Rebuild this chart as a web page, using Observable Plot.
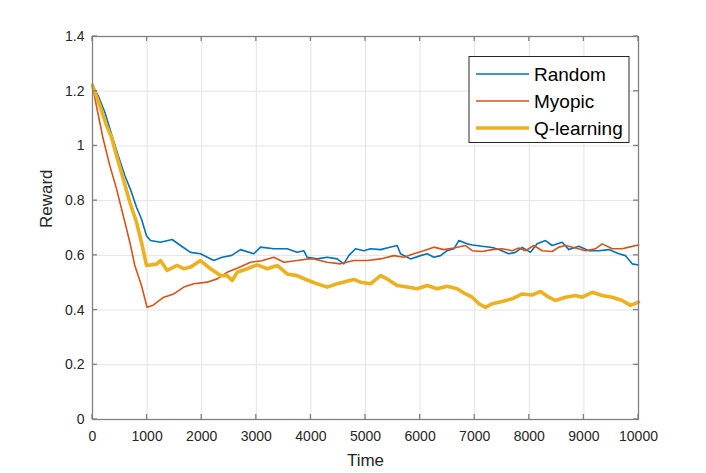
<!DOCTYPE html>
<html><head><meta charset="utf-8">
<script src="https://cdn.jsdelivr.net/npm/d3@7"></script>
<script src="https://cdn.jsdelivr.net/npm/@observablehq/plot@0.6"></script>
<style>
body{margin:0;background:#fff;}
#chart{width:706px;height:473px;}
</style></head><body><div id="chart"></div>
<script>
// ---- data ----
const randomT = [0,104,226,348,470,592,714,806,897,989,1062,1245,1459,1612,1795,1978,2222,2375,2550,2711,2955,3077,3321,3565,3748,3870,3932,4115,4298,4481,4603,4694,4817,4969,5092,5275,5427,5580,5641,5824,6007,6130,6252,6374,6496,6618,6709,6862,6954,7137,7320,7442,7625,7747,7870,8022,8144,8297,8419,8602,8724,8907,9090,9273,9456,9640,9762,9884,10000];
const randomV = [1.221,1.184,1.123,1.044,0.965,0.892,0.831,0.776,0.733,0.672,0.654,0.648,0.658,0.636,0.611,0.606,0.581,0.593,0.600,0.621,0.606,0.630,0.624,0.624,0.611,0.617,0.593,0.587,0.593,0.587,0.569,0.599,0.624,0.617,0.624,0.621,0.629,0.636,0.606,0.587,0.599,0.606,0.593,0.599,0.617,0.624,0.654,0.642,0.638,0.633,0.629,0.621,0.606,0.611,0.629,0.611,0.642,0.654,0.636,0.648,0.621,0.633,0.617,0.617,0.621,0.606,0.599,0.569,0.565];

const myopicT = [0,73,195,317,440,562,684,775,897,1000,1111,1306,1489,1672,1856,2100,2283,2466,2649,2894,3100,3321,3504,3748,3962,4054,4298,4542,4786,5031,5275,5519,5702,5885,6068,6252,6435,6618,6832,6954,7137,7320,7503,7686,7808,7930,8083,8236,8419,8541,8663,8846,9029,9212,9335,9518,9701,9823,10000];
const myopicV = [1.221,1.145,1.026,0.928,0.843,0.746,0.648,0.563,0.490,0.410,0.418,0.447,0.459,0.484,0.496,0.502,0.514,0.538,0.553,0.575,0.580,0.593,0.575,0.581,0.587,0.587,0.575,0.569,0.581,0.581,0.587,0.599,0.593,0.606,0.617,0.630,0.621,0.627,0.636,0.617,0.614,0.621,0.624,0.617,0.627,0.617,0.636,0.617,0.614,0.630,0.636,0.627,0.617,0.624,0.642,0.624,0.624,0.630,0.638];

const qT = [0,134,256,348,440,562,684,806,897,989,1172,1245,1368,1551,1672,1795,1978,2161,2344,2466,2558,2649,2833,3016,3199,3382,3565,3748,3932,4115,4298,4481,4786,4908,5092,5275,5397,5580,5763,5946,6130,6313,6496,6679,6832,6954,7076,7198,7320,7503,7686,7870,8053,8205,8357,8480,8663,8846,8969,9152,9335,9518,9701,9853,10000];
const qV = [1.221,1.148,1.075,1.032,0.965,0.880,0.794,0.721,0.648,0.563,0.568,0.581,0.545,0.563,0.551,0.557,0.581,0.551,0.526,0.526,0.508,0.538,0.551,0.565,0.551,0.563,0.532,0.526,0.510,0.496,0.484,0.496,0.512,0.502,0.496,0.526,0.514,0.490,0.484,0.478,0.490,0.478,0.487,0.478,0.459,0.447,0.423,0.410,0.423,0.431,0.441,0.459,0.455,0.468,0.447,0.435,0.447,0.453,0.447,0.465,0.453,0.447,0.435,0.417,0.429];

const seriesNames = ["Random","Myopic","Q-learning"];
const seriesColors = ["#0072BD","#D95319","#EDB120"];
const xTicks = [0,1000,2000,3000,4000,5000,6000,7000,8000,9000,10000];
const yTicks = [0,0.2,0.4,0.6,0.8,1,1.2,1.4];
const xLabel = "Time";
const yLabel = "Reward";

// ---- build ----
const toRows = (T, V, name) => T.map((t, i) => ({t, v: V[i], name}));
const rowsR = toRows(randomT, randomV, seriesNames[0]);
const rowsM = toRows(myopicT, myopicV, seriesNames[1]);
const rowsQ = toRows(qT, qV, seriesNames[2]);

const W = 706, H = 473, mL = 92, mR = 68, mT = 36, mB = 54;
const font = "'Liberation Sans', Arial, Helvetica, sans-serif";
const axisColor = "#808080";

const plot = Plot.plot({
  width: W, height: H,
  marginLeft: mL, marginRight: mR, marginTop: mT, marginBottom: mB,
  style: {fontFamily: font, fontSize: "14px", color: "#262626", background: "#fff", overflow: "visible"},
  x: {domain: [0, 10000]},
  y: {domain: [0, 1.4]},
  marks: [
    Plot.gridX(xTicks, {stroke: "#e3e3e3", strokeOpacity: 1, strokeWidth: 1}),
    Plot.gridY(yTicks, {stroke: "#e3e3e3", strokeOpacity: 1, strokeWidth: 1}),
    Plot.line(rowsR, {x: "t", y: "v", stroke: seriesColors[0], strokeWidth: 1.6}),
    Plot.line(rowsM, {x: "t", y: "v", stroke: seriesColors[1], strokeWidth: 1.6}),
    Plot.line(rowsQ, {x: "t", y: "v", stroke: seriesColors[2], strokeWidth: 3.6, strokeLinejoin: "round"}),
    Plot.frame({stroke: axisColor, strokeWidth: 1.3}),
    Plot.axisX(xTicks, {tickSize: 0, tickPadding: 12, tickFormat: d => String(d), label: null, fill: "#262626"}),
    Plot.axisY(yTicks, {tickSize: 0, tickPadding: 8, tickFormat: d => String(d), label: null, fill: "#262626"}),
    Plot.text([xLabel], {frameAnchor: "bottom", dy: 46, fontSize: 17, fill: "#262626", text: d => d}),
    Plot.text([yLabel], {frameAnchor: "left", dx: -46, rotate: -90, fontSize: 17, fill: "#262626", text: d => d})
  ]
});

// inward ticks on all four sides, positioned with the plot's own scales
const sx = plot.scale("x"), sy = plot.scale("y");
const svg = d3.select(plot);
const tg = svg.append("g").attr("stroke", axisColor).attr("stroke-width", 1.3);
const tl = 5, fLeft = mL, fRight = W - mR, fTop = mT, fBottom = H - mB;
for (const t of xTicks) {
  const x = sx.apply(t);
  tg.append("line").attr("x1", x).attr("x2", x).attr("y1", fBottom).attr("y2", fBottom - tl);
  tg.append("line").attr("x1", x).attr("x2", x).attr("y1", fTop).attr("y2", fTop + tl);
}
for (const v of yTicks) {
  const y = sy.apply(v);
  tg.append("line").attr("x1", fLeft).attr("x2", fLeft + tl).attr("y1", y).attr("y2", y);
  tg.append("line").attr("x1", fRight).attr("x2", fRight - tl).attr("y1", y).attr("y2", y);
}

// legend box
const lg = svg.append("g").attr("font-family", font).attr("font-size", 19).attr("text-anchor", "start");
lg.append("rect").attr("x", 469).attr("y", 56.5).attr("width", 160).attr("height", 86)
  .attr("fill", "#fff").attr("stroke", "#262626").attr("stroke-width", 1);
seriesNames.forEach((name, i) => {
  const y = 74 + i * 27;
  lg.append("line").attr("x1", 476).attr("x2", 529).attr("y1", y).attr("y2", y)
    .attr("stroke", seriesColors[i]).attr("stroke-width", i === 2 ? 3.6 : 1.6);
  lg.append("text").attr("x", 534).attr("y", y).attr("dy", "0.35em").attr("text-anchor", "start").attr("fill", "#000").text(name);
});

document.getElementById("chart").appendChild(plot);
</script>
</body></html>
